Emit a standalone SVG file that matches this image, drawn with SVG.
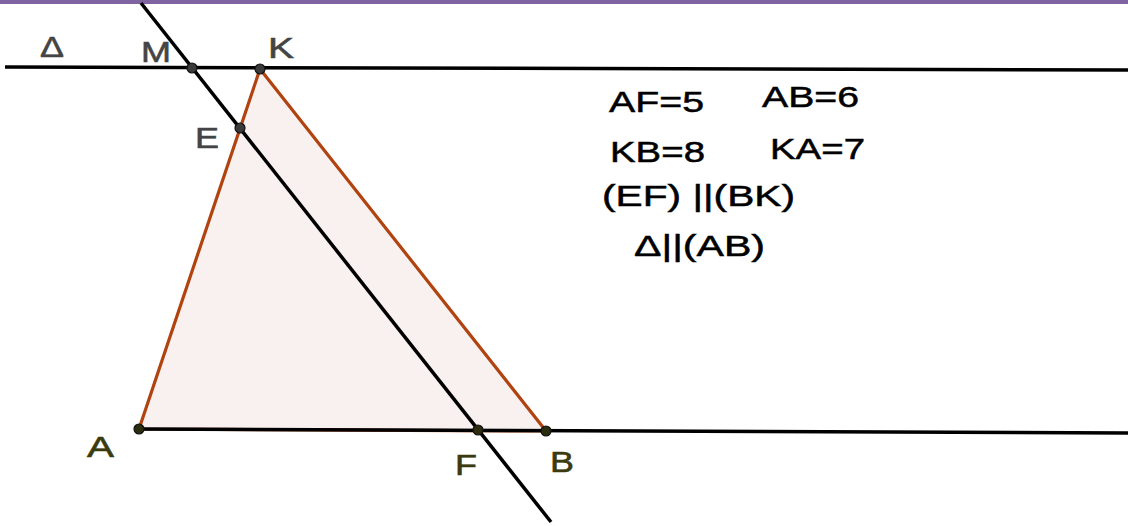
<svg xmlns="http://www.w3.org/2000/svg" width="1128" height="526" viewBox="0 0 1128 526">
<style>
.ln{stroke:#000;stroke-width:3.5;fill:none}
.tri{fill:#f9f1ef;stroke:#b0430f;stroke-width:3.2;stroke-linejoin:round}
.pg{fill:#3a3a3a;stroke:#111;stroke-width:1.2}
.po{fill:#2c2c0e;stroke:#111;stroke-width:1.2}
.lg{font-family:"Liberation Sans",Arial,sans-serif;font-size:30px;fill:#444;stroke:#444;stroke-width:0.6}
.lo{font-family:"Liberation Sans",Arial,sans-serif;font-size:30px;fill:#3a3a0e;stroke:#3a3a0e;stroke-width:0.6}
.tx{font-family:"Liberation Sans",Arial,sans-serif;font-size:30px;fill:#000;stroke:#000;stroke-width:0.5}
</style>
<rect width="1128" height="526" fill="#fff"/>
<rect x="0" y="0" width="1128" height="4" fill="#8064a2"/>
<polygon class="tri" points="139,429 260,69 546,431"/>
<g id="connectors">
<line class="ln" x1="5" y1="67" x2="1128" y2="70"/>
<line class="ln" x1="139" y1="429" x2="1128" y2="433"/>
<line class="ln" x1="141" y1="3" x2="551" y2="522"/>
</g>
<g id="delta"><text class="lg" x="40" y="57" textLength="24" lengthAdjust="spacingAndGlyphs">Δ</text></g>
<g id="M"><circle class="pg" cx="192" cy="68" r="5"/><text class="lg" x="141" y="62" textLength="30" lengthAdjust="spacingAndGlyphs">M</text></g>
<g id="K"><circle class="pg" cx="260" cy="69" r="5"/><text class="lg" x="268" y="58" textLength="26" lengthAdjust="spacingAndGlyphs">K</text></g>
<g id="E"><circle class="pg" cx="240" cy="128" r="5"/><text class="lg" x="195" y="148" textLength="24" lengthAdjust="spacingAndGlyphs">E</text></g>
<g id="A"><circle class="po" cx="139" cy="429" r="5"/><text class="lo" x="87" y="457" textLength="27" lengthAdjust="spacingAndGlyphs">A</text></g>
<g id="F"><circle class="po" cx="478" cy="430" r="5"/><text class="lo" x="455" y="475" textLength="22" lengthAdjust="spacingAndGlyphs">F</text></g>
<g id="B"><circle class="po" cx="546" cy="431" r="5"/><text class="lo" x="550" y="472" textLength="24" lengthAdjust="spacingAndGlyphs">B</text></g>
<g id="info">
<text class="tx" x="609" y="112" textLength="95" lengthAdjust="spacingAndGlyphs">AF=5</text>
<text class="tx" x="762" y="107" textLength="97" lengthAdjust="spacingAndGlyphs">AB=6</text>
<text class="tx" x="610" y="162" textLength="95" lengthAdjust="spacingAndGlyphs">KB=8</text>
<text class="tx" x="770" y="159" textLength="95" lengthAdjust="spacingAndGlyphs">KA=7</text>
<text class="tx" x="602" y="206" textLength="193" lengthAdjust="spacingAndGlyphs">(EF) ||(BK)</text>
<text class="tx" x="634" y="256" textLength="131" lengthAdjust="spacingAndGlyphs">Δ||(AB)</text>
</g>
</svg>
